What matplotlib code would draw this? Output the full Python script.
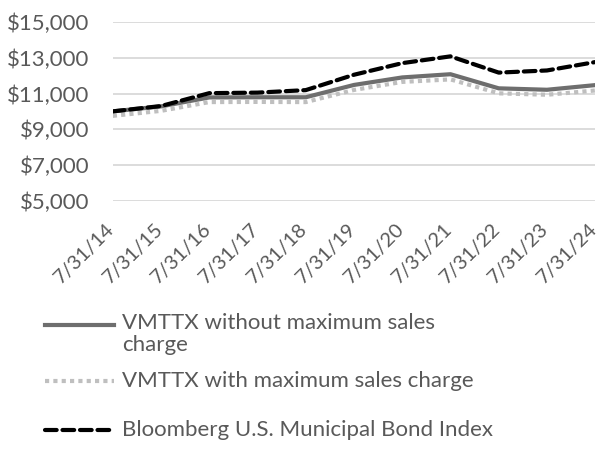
import matplotlib.pyplot as plt
from matplotlib.lines import Line2D
from matplotlib.ticker import FuncFormatter
from matplotlib.transforms import ScaledTranslation

dates = ["7/31/14", "7/31/15", "7/31/16", "7/31/17", "7/31/18", "7/31/19",
         "7/31/20", "7/31/21", "7/31/22", "7/31/23", "7/31/24"]
without_load = [10000, 10280, 10780, 10790, 10790, 11480, 11900, 12080, 11290, 11210, 11470]
with_load = [9750, 10030, 10520, 10530, 10520, 11200, 11650, 11790, 11010, 10930, 11170]
index = [10000, 10300, 11020, 11050, 11190, 12050, 12700, 13080, 12170, 12290, 12760]

names = ["VMTTX without maximum sales\ncharge",
         "VMTTX with maximum sales charge",
         "Bloomberg U.S. Municipal Bond Index"]

txt = "#595959"
plt.rcParams["font.family"] = ["Lato", "DejaVu Sans"]

fig = plt.figure(figsize=(6, 4.5), dpi=100)
ax = fig.add_axes([0.188, 0.554, 0.804, 0.397])

x = list(range(len(dates)))
# same order as names: without load, with load, index
styles = [
    dict(color="#6E6E6E", lw=3.0, ls="-", zorder=4),
    dict(color="#BFBFBF", lw=3.0, ls=(0, (1, 1)), dash_capstyle="butt", zorder=3),
    dict(color="black", lw=3.0, ls=(0, (2.8, 1.4)), dash_capstyle="round", zorder=5),
]
for vals, st in zip([without_load, with_load, index], styles):
    ax.plot(x, vals, **st)

ax.set_xlim(0, 10)
ax.set_ylim(5000, 15000)
ax.set_yticks(range(5000, 15001, 2000))
ax.yaxis.set_major_formatter(FuncFormatter(lambda v, p: "${:,.0f}".format(v)))
ax.grid(axis="y", color="#D9D9D9", lw=1.3)
ax.set_axisbelow(True)
for s in ax.spines.values():
    s.set_visible(False)
ax.tick_params(axis="both", length=0, colors=txt)
ax.tick_params(axis="y", pad=17, labelsize=16)
ax.tick_params(axis="x", pad=14, labelsize=14.5)
ax.set_xticks(x)
ax.set_xticklabels(dates, rotation=45, ha="right", rotation_mode="anchor")
shift = ScaledTranslation(-7 / 100, 0, fig.dpi_scale_trans)
for lab in ax.get_xticklabels():
    lab.set_transform(lab.get_transform() + shift)

# legend drawn by hand so the handle sits on the first line of a wrapped label
rows = [0.278, 0.153, 0.044]
for r, name, st in zip(rows, names, styles):
    fig.add_artist(Line2D([0.075, 0.19], [r, r], transform=fig.transFigure,
                          color=st["color"], lw=st["lw"], ls=st["ls"],
                          dash_capstyle=st.get("dash_capstyle", "butt")))
    if "\n" in name:
        fig.text(0.203, r + 0.027, name, color=txt, fontsize=16, va="top", linespacing=1.15)
    else:
        fig.text(0.203, r, name, color=txt, fontsize=16, va="center")

fig.savefig("out.png", dpi=100)
